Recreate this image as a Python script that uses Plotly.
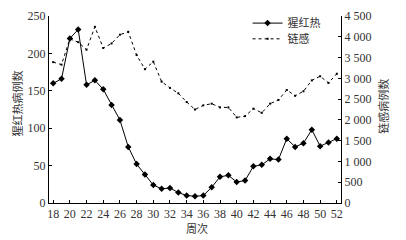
import plotly.graph_objects as go

weeks = list(range(18, 53))
scarlet_fever = [160, 166, 220, 232, 158, 164, 152, 131, 111, 75, 52, 38, 24, 19, 20, 14, 10, 9, 10,
                 21, 35, 37, 28, 30, 49, 51, 59, 58, 86, 75, 80, 98, 76, 81, 86]
strep = [3390, 3330, 3950, 3870, 3690, 4240, 3730, 3840, 4050, 4120, 3560, 3220, 3400, 2920, 2770,
         2640, 2430, 2250, 2350, 2390, 2300, 2300, 2060, 2090, 2270, 2170, 2390, 2480, 2720, 2580,
         2690, 2950, 3050, 2890, 3110]

name_a = "猩红热"
name_b = "链感"
x_title = "周次"
y_title = "猩红热病例数"
y2_title = "链感病例数"

num_font = "Liberation Serif"
cjk_font = "Noto Sans CJK SC"
txt_color = "#333333"

fig = go.Figure()
fig.add_trace(go.Scatter(
    x=weeks, y=scarlet_fever, name=name_a, mode="lines+markers",
    line=dict(color="black", width=1),
    marker=dict(symbol="diamond", size=5, color="black"),
    legend="legend",
))
fig.add_trace(go.Scatter(
    x=weeks, y=strep, name=name_b, mode="lines+markers", yaxis="y2",
    line=dict(color="black", width=1, dash="dot"),
    marker=dict(symbol="square", size=2, color="black"),
    legend="legend2",
))

axis_common = dict(
    showline=True, linecolor="black", linewidth=1, showgrid=False, zeroline=False,
    ticks="inside", ticklen=3, tickcolor="black", tickwidth=1, automargin=False,
    tickfont=dict(family=num_font, size=12, color=txt_color),
)

title_font = dict(family=cjk_font, size=11, color=txt_color)
legend_common = dict(x=0.68, xanchor="left", yanchor="middle", bgcolor="rgba(0,0,0,0)",
                     font=dict(family=cjk_font, size=11, color=txt_color), itemwidth=30)

fig.update_layout(
    width=406, height=240,
    margin=dict(l=49, r=65, t=9, b=37),
    paper_bgcolor="white", plot_bgcolor="white",
    separators=". ",
    showlegend=True,
    legend=dict(y=0.962, **legend_common),
    legend2=dict(y=0.878, **legend_common),
    xaxis=dict(range=[17.5, 52.5], tick0=18, dtick=2, **axis_common),
    yaxis=dict(range=[0, 250], dtick=50, **axis_common),
    yaxis2=dict(range=[0, 4500], dtick=500, overlaying="y", side="right",
                separatethousands=True, **axis_common),
    annotations=[
        dict(text=x_title, xref="paper", yref="paper", x=0.507, y=-0.134,
             showarrow=False, font=title_font, xanchor="center", yanchor="middle"),
        dict(text=y_title, xref="paper", yref="paper", x=-0.11, y=0.531, textangle=-90,
             showarrow=False, font=title_font, xanchor="center", yanchor="middle"),
        dict(text=y2_title, xref="paper", yref="paper", x=1.144, y=0.515, textangle=-90,
             showarrow=False, font=title_font, xanchor="center", yanchor="middle"),
    ],
)

fig.write_html("out.html", config={"displayModeBar": False},
               post_script="document.body.style.margin='0';")
